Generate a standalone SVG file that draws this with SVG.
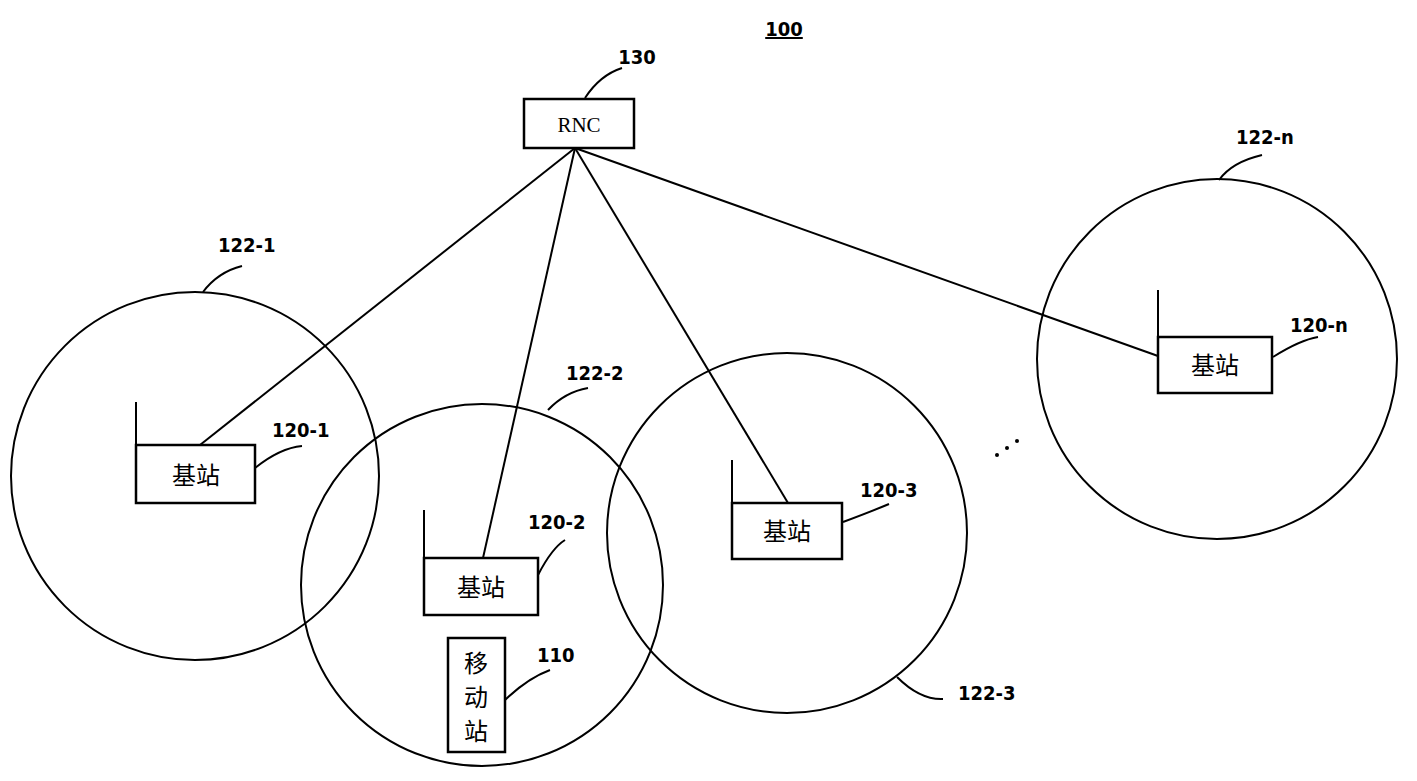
<svg xmlns="http://www.w3.org/2000/svg" width="1417" height="781" viewBox="0 0 1417 781">
<style>
.l{fill:none;stroke:#000;stroke-width:2}
.b{fill:#fff;stroke:#000;stroke-width:2.5}
.t{font-family:"DejaVu Sans Condensed","Liberation Sans",sans-serif;font-size:20px;font-weight:bold;fill:#000}
.c{font-family:"Noto Sans CJK SC",sans-serif;font-size:24px;fill:#000}
</style>
<rect width="1417" height="781" fill="#fff"/>
<text class="t" x="784" y="36" text-anchor="middle" text-decoration="underline">100</text>
<g id="cells">
<circle id="c1" class="l" cx="195" cy="476" r="184"/>
<circle id="c2" class="l" cx="482" cy="585" r="181"/>
<circle id="c3" class="l" cx="787" cy="533" r="180"/>
<circle id="cn" class="l" cx="1217" cy="359" r="180"/>
</g>
<g id="connectors">
<line class="l" x1="575" y1="148" x2="200" y2="445"/>
<line class="l" x1="575" y1="148" x2="483" y2="558"/>
<line class="l" x1="575" y1="148" x2="788" y2="503"/>
<line class="l" x1="575" y1="148" x2="1158" y2="356"/>
<path class="l" d="M585 98 Q600 75 622 68"/>
<path class="l" d="M203 292 Q218 272 242 266"/>
<path class="l" d="M548 410 Q565 392 588 388"/>
<path class="l" d="M897 677 Q920 700 943 699"/>
<path class="l" d="M1219 180 Q1232 162 1262 155"/>
<path class="l" d="M255 468 Q280 448 302 446"/>
<path class="l" d="M538 575 Q552 548 565 540"/>
<path class="l" d="M843 522 Q870 512 889 504"/>
<path class="l" d="M1273 357 Q1300 340 1318 337"/>
<path class="l" d="M505 700 Q528 678 550 670"/>
</g>
<g id="rnc"><rect class="b" x="524" y="99" width="110" height="49"/><text x="579" y="132" text-anchor="middle" font-family="Liberation Serif,serif" font-size="21">RNC</text><text class="t" x="637" y="64" text-anchor="middle">130</text></g>
<g id="bs1"><line class="l" x1="136" y1="445" x2="136" y2="402"/><rect class="b" x="136" y="445" width="119" height="58"/><text class="c" x="196" y="484" text-anchor="middle">基站</text><text class="t" x="272" y="437">120-1</text><text class="t" x="218" y="252">122-1</text></g>
<g id="bs2"><line class="l" x1="424" y1="558" x2="424" y2="510"/><rect class="b" x="424" y="558" width="114" height="57"/><text class="c" x="481" y="596" text-anchor="middle">基站</text><text class="t" x="528" y="529">120-2</text><text class="t" x="566" y="380">122-2</text></g>
<g id="bs3"><line class="l" x1="732" y1="503" x2="732" y2="460"/><rect class="b" x="732" y="503" width="110" height="56"/><text class="c" x="787" y="540" text-anchor="middle">基站</text><text class="t" x="860" y="497">120-3</text><text class="t" x="958" y="700">122-3</text></g>
<g id="bsn"><line class="l" x1="1158" y1="337" x2="1158" y2="290"/><rect class="b" x="1158" y="337" width="114" height="56"/><text class="c" x="1215" y="374" text-anchor="middle">基站</text><text class="t" x="1290" y="332">120-n</text><text class="t" x="1236" y="144">122-n</text></g>
<g id="ms"><rect class="b" x="448" y="638" width="57" height="114"/><text class="c" x="476" y="672" text-anchor="middle">移</text><text class="c" x="476" y="706" text-anchor="middle">动</text><text class="c" x="476" y="740" text-anchor="middle">站</text><text class="t" x="537" y="662">110</text></g>
<g id="dots" fill="#000"><circle cx="997" cy="455" r="2"/><circle cx="1007" cy="448" r="2"/><circle cx="1017" cy="441" r="2"/></g>
</svg>
